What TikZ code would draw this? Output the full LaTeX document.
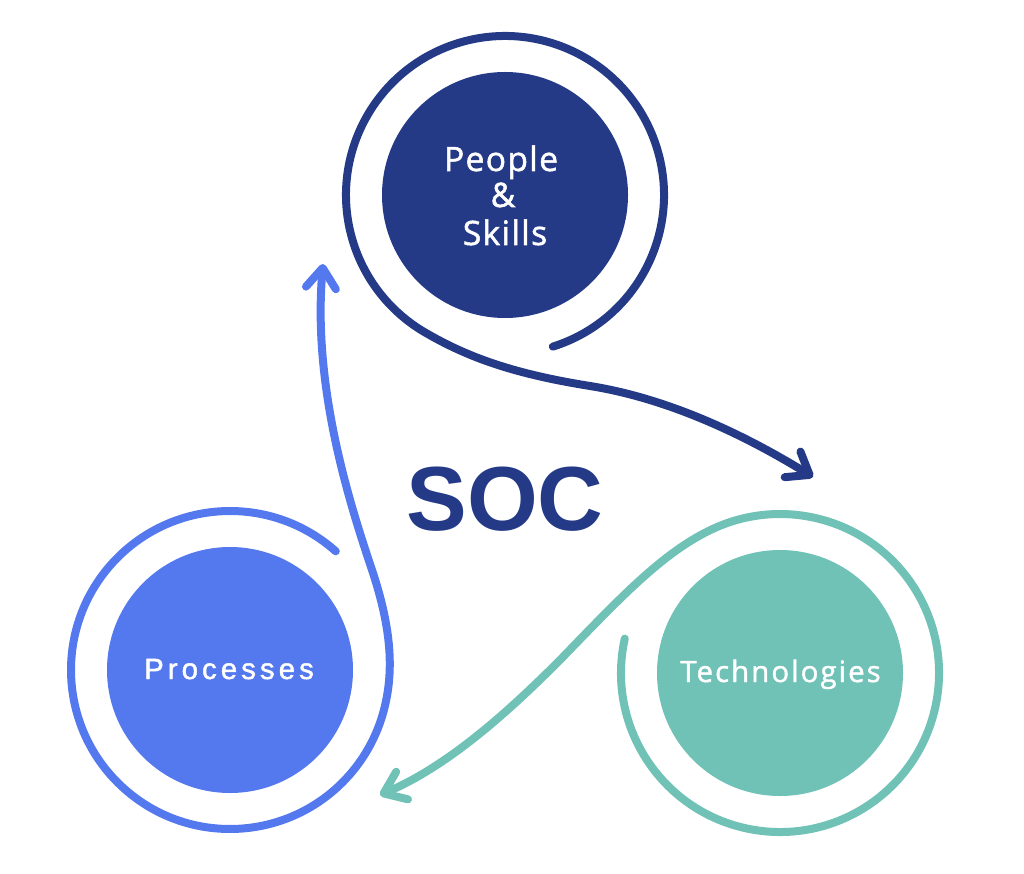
\documentclass[tikz,border=0pt]{standalone}
\usepackage{fontspec}
\usetikzlibrary{arrows.meta}
\newfontfamily\peoplefont{Open Sans}[LetterSpace=4, BoldFont={Open Sans}, BoldFeatures={FakeBold=1.5}]
\newfontfamily\procfont{Liberation Sans}[LetterSpace=14, BoldFont={Liberation Sans}, BoldFeatures={FakeBold=1.5}]
\newfontfamily\techfont{Open Sans}[LetterSpace=7, BoldFont={Open Sans}, BoldFeatures={FakeBold=1.5}]
\newfontfamily\socfont{Liberation Sans}
\definecolor{navy}{HTML}{243A87}
\definecolor{procblue}{HTML}{5479EE}
\definecolor{tealc}{HTML}{70C2B7}
\begin{document}
\begin{tikzpicture}[x=1pt,y=-1pt,
  ring/.style={line width=8pt, line cap=round, line join=round},
  tipbarb/.style={-{Straight Barb[length=20pt,width=30pt,round]}},
  disc/.style={circle, inner sep=0pt, minimum size=246pt},
  lbl/.style={anchor=base, text=white}]
\useasboundingbox (0,0) rectangle (1024,874);
\node[disc, fill=navy] (people) at (505,195) {};
\node[disc, fill=procblue] (proc) at (230,670) {};
\node[disc, fill=tealc] (tech) at (780,673) {};
\coordinate (ptip) at (813,477);
\coordinate (prtip) at (323,264);
\coordinate (ttip) at (380,795);
% People loop and arrow to Technologies
\draw[ring, navy, tipbarb] ([shift={(72.5:159)}]people.center)
  arc[start angle=72.5, end angle=-240, radius=159]
  .. controls (469,358) and (515,374) .. (590,386)
  .. controls (665,398) and (740,432) .. (ptip);
% Processes loop and arrow to People
\draw[ring, procblue, tipbarb] ([shift={(-48.3:159)}]proc.center)
  arc[start angle=-48.3, end angle=-345, radius=159]
  .. controls (394,672.6) and (392,630) .. (372,570)
  .. controls (352,510) and (312,390) .. (prtip);
% Technologies loop and arrow to Processes
\draw[ring, tealc, tipbarb] ([shift={(192.5:159)}]tech.center)
  arc[start angle=192.5, end angle=-115, radius=159]
  .. controls (663,552) and (620,598) .. (560,660)
  .. controls (510,710) and (450,765) .. (ttip);
% labels
\node[lbl, font=\peoplefont\bfseries\fontsize{33.6}{40}\selectfont] (l1) at (501,171) {People};
\node[lbl, font=\peoplefont\bfseries\fontsize{33.6}{40}\selectfont] (l2) at (503,207) {\&};
\node[lbl, font=\peoplefont\bfseries\fontsize{33.6}{40}\selectfont] (l3) at (505,245) {Skills};
\node[lbl, font=\procfont\bfseries\fontsize{29.3}{35}\selectfont] (lp) at (229,679) {Processes};
\node[lbl, font=\techfont\bfseries\fontsize{29.4}{35}\selectfont] (lt) at (780.5,682) {Technologies};
\node[anchor=base, text=navy, font=\socfont\bfseries\fontsize{91}{100}\selectfont] (soc) at (505,530) {SOC};
\end{tikzpicture}
\end{document}
